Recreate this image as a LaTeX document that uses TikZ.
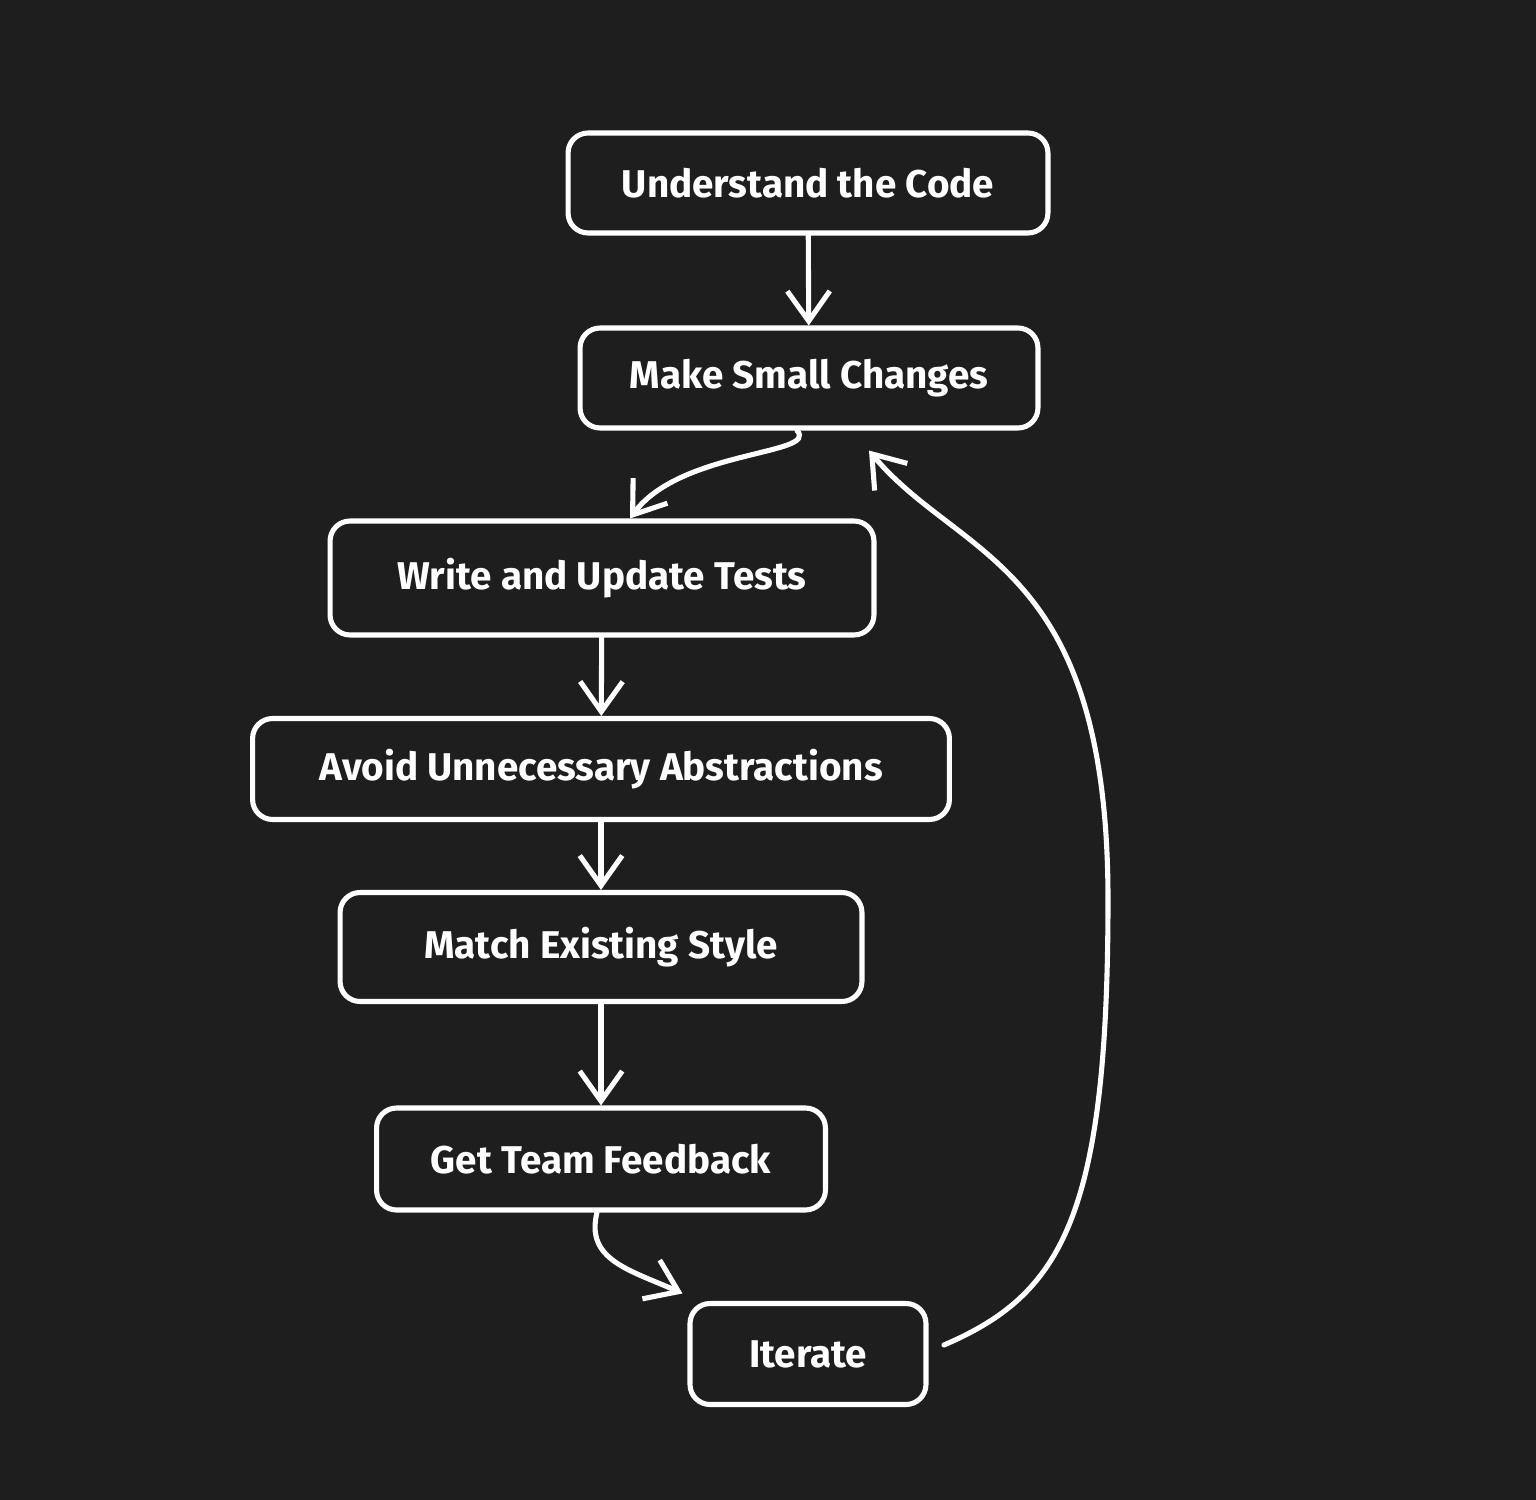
\documentclass[tikz,border=0pt]{standalone}
\usepackage{fontspec}
\setmainfont{Fira Sans}
\usetikzlibrary{arrows.meta}
\definecolor{bg}{HTML}{1E1E1E}
\tikzset{
stage/.style={draw=white, line width=2.9pt, rounded corners=0.4cm, fill=bg, text=white,
  font=\fontsize{22}{26}\selectfont\bfseries, inner sep=0pt}, % the boxes
flow/.style={draw=white, line width=2.9pt, line cap=round, -{Straight Barb[length=0.6cm, width=0.85cm, line width=2.9pt]}},
}
\begin{document}
\begin{tikzpicture}[x=0.02cm, y=-0.02cm]
    \fill[bg] (0,0) rectangle (1536,1500);
    \useasboundingbox (0,0) rectangle (1536,1500);
    %% boxes, at their centres
    \node[stage, minimum width=9.6cm, minimum height=2cm] (understand) at (808,183) {Understand the Code};
    \node[stage, minimum width=9.16cm, minimum height=2cm] (small) at (809,378) {Make Small Changes};
    \node[stage, minimum width=10.88cm, minimum height=2.28cm] (tests) at (602,578) {Write and Update Tests};
    \node[stage, minimum width=13.94cm, minimum height=2.02cm] (avoid) at (601,769) {Avoid Unnecessary Abstractions};
    \node[stage, minimum width=10.44cm, minimum height=2.18cm] (style) at (601,947) {Match Existing Style};
    \node[stage, minimum width=8.98cm, minimum height=2.04cm] (feedback) at (601,1159) {Get Team Feedback};
    \node[stage, minimum width=4.72cm, minimum height=2.02cm] (iterate) at (808,1354) {Iterate};
    %% connectors
    \coordinate (back) at (944,1345);
    \draw[flow] (understand) -- (small);
    \draw[flow] ([xshift=-0.24cm]small.south) .. controls (820,455) and (680,450) .. ([xshift=0.56cm]tests.north);
    \draw[flow] (tests) -- (avoid);
    \draw[flow] (avoid) -- (style);
    \draw[flow] (style) -- (feedback);
    \draw[flow] ([xshift=-0.08cm]feedback.south) .. controls (585,1260) and (630,1270) .. ([xshift=-0.1cm,yshift=0.15cm]iterate.north west);
    \draw[flow] (back) .. controls (1060,1295) and (1108,1220) .. (1108,900)
        .. controls (1108,560) and (960,560) .. ([xshift=1.2cm,yshift=-0.4cm]small.south);
\end{tikzpicture}
\end{document}
